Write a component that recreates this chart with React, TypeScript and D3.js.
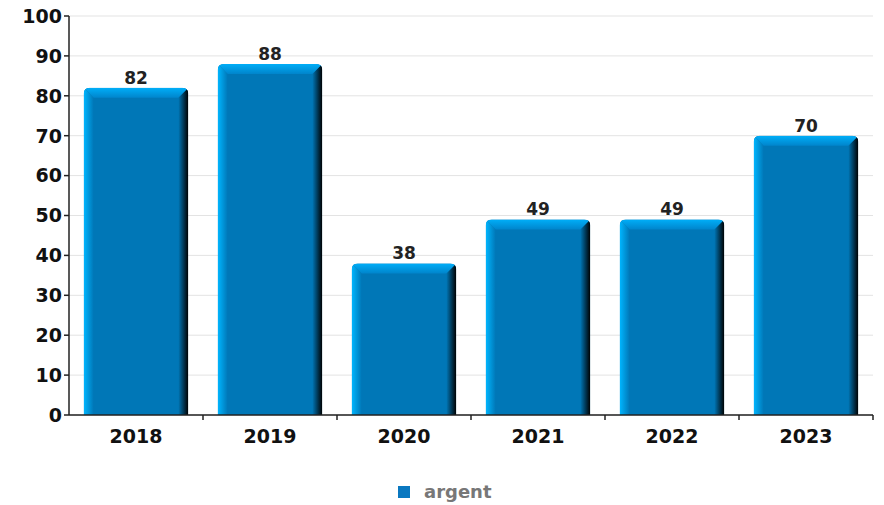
import React from "react";
import * as d3 from "d3";

const categories = ["2018", "2019", "2020", "2021", "2022", "2023"];
const values = [82, 88, 38, 49, 49, 70];
const yTicks = [0, 10, 20, 30, 40, 50, 60, 70, 80, 90, 100];
const seriesName = "argent";

const W = 884, H = 505;
const left = 69, right = 873, top = 16, bottom = 415;

export default function App() {
  const x = d3.scaleBand<string>().domain(categories).range([left, right]).paddingInner(0.22).paddingOuter(0.11);
  const y = d3.scaleLinear().domain([0, 100]).range([bottom, top]);
  const font = "'DejaVu Sans', sans-serif";
  const bw = x.bandwidth();
  const e = 10; // bevel size
  const r = 6;
  const boundaries = categories.map((_, i) => left + ((right - left) / categories.length) * (i + 1));
  return (
    <svg width={W} height={H} style={{ position: "absolute", left: 0, top: 0 }}>
      <defs>
        <linearGradient id="lg" x1="0" x2="1" y1="0" y2="0">
          <stop offset="0" stopColor="#00b6ff" />
          <stop offset="1" stopColor="#0077b7" />
        </linearGradient>
        <linearGradient id="rg" x1="0" x2="1" y1="0" y2="0">
          <stop offset="0" stopColor="#0077b7" />
          <stop offset="1" stopColor="#000" />
        </linearGradient>
        <linearGradient id="tg" x1="0" x2="0" y1="0" y2="1">
          <stop offset="0" stopColor="#00aef8" />
          <stop offset="1" stopColor="#0085cc" />
        </linearGradient>
      </defs>
      {yTicks.map((t) => (
        <line key={"g" + t} x1={left} x2={right} y1={y(t)} y2={y(t)} stroke="#e3e3e3" strokeWidth={1} />
      ))}
      {categories.map((c, i) => {
        const x0 = x(c)!;
        const x1 = x0 + bw;
        const yt = y(values[i]);
        const yb = y(0);
        const clipId = "clip" + i;
        return (
          <g key={c}>
            <clipPath id={clipId}>
              <path d={`M${x0},${yb}V${yt + r}Q${x0},${yt} ${x0 + r},${yt}H${x1 - r}Q${x1},${yt} ${x1},${yt + r}V${yb}Z`} />
            </clipPath>
            <g clipPath={`url(#${clipId})`}>
              <rect x={x0} y={yt} width={bw} height={yb - yt} fill="#0077b7" />
              <polygon points={`${x0},${yt} ${x0 + e},${yt + e} ${x0 + e},${yb} ${x0},${yb}`} fill="url(#lg)" />
              <polygon points={`${x1},${yt} ${x1 - e},${yt + e} ${x1 - e},${yb} ${x1},${yb}`} fill="url(#rg)" />
              <polygon points={`${x0},${yt} ${x1},${yt} ${x1 - e},${yt + e} ${x0 + e},${yt + e}`} fill="url(#tg)" />
            </g>
            <text x={x0 + bw / 2} y={yt - 4} textAnchor="middle" fontFamily={font} fontWeight="bold" fontSize={17} fill="#222">
              {values[i]}
            </text>
            <text x={x0 + bw / 2} y={bottom + 28} textAnchor="middle" fontFamily={font} fontWeight="bold" fontSize={19} fill="#111">
              {c}
            </text>
          </g>
        );
      })}
      <line x1={left} x2={left} y1={top} y2={bottom} stroke="#222" strokeWidth={1.5} />
      <line x1={left} x2={right} y1={bottom} y2={bottom} stroke="#222" strokeWidth={1.5} />
      {boundaries.map((b, i) => (
        <line key={"xt" + i} x1={b} x2={b} y1={bottom} y2={bottom + 5} stroke="#222" strokeWidth={1.5} />
      ))}
      {yTicks.map((t) => (
        <g key={"t" + t}>
          <line x1={left - 5} x2={left} y1={y(t)} y2={y(t)} stroke="#222" strokeWidth={1.5} />
          <text x={left - 7} y={y(t)} dy="0.36em" textAnchor="end" fontFamily={font} fontWeight="bold" fontSize={19} fill="#111">
            {t}
          </text>
        </g>
      ))}
      <rect x={398} y={486} width={12} height={12} fill="#0a78c0" />
      <text x={424} y={498} fontFamily={font} fontWeight="bold" fontSize={18} fill="#777">
        {seriesName}
      </text>
    </svg>
  );
}
